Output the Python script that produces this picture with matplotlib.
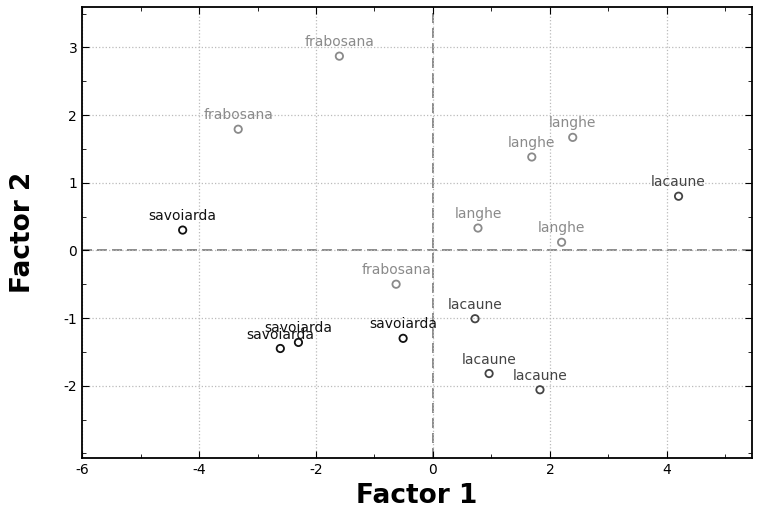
import matplotlib
matplotlib.use("Agg")
import matplotlib.pyplot as plt
from matplotlib.ticker import MultipleLocator, FixedLocator

plt.rcParams["axes.unicode_minus"] = False

# factor scores
breeds = ["savoiarda", "frabosana", "frabosana", "langhe", "langhe", "lacaune",
          "langhe", "langhe", "frabosana", "lacaune", "savoiarda", "savoiarda",
          "savoiarda", "lacaune", "lacaune"]
factor1 = [-4.28, -1.60, -3.33, 2.39, 1.69, 4.20, 0.77, 2.20, -0.63, 0.72,
           -0.51, -2.30, -2.61, 0.96, 1.83]
factor2 = [0.30, 2.87, 1.79, 1.67, 1.38, 0.80, 0.33, 0.12, -0.50, -1.01,
           -1.30, -1.36, -1.45, -1.82, -2.06]
yticks = [-2, -1, 0, 1, 2, 3]

colors = {"savoiarda": "#111111", "lacaune": "#444444",
          "langhe": "#8a8a8a", "frabosana": "#8a8a8a"}

fig = plt.figure(figsize=(7.67, 5.2), dpi=100)
ax = fig.add_axes([0.107, 0.119, 0.873, 0.868])

for b, x, y in zip(breeds, factor1, factor2):
    c = colors[b]
    ax.scatter(x, y, s=28, facecolors="none", edgecolors=c, linewidths=1.3, zorder=3)
    ax.annotate(b, (x, y), xytext=(0, 5), textcoords="offset points",
                ha="center", va="bottom", fontsize=10, color=c)

ax.axhline(0, color="#777777", linestyle=(0, (6, 3)), linewidth=1.2, zorder=1)
ax.axvline(0, color="#777777", linestyle=(0, (6, 3)), linewidth=1.2, zorder=1)

ax.set_xlim(-6, 5.45)
ax.set_ylim(-3.07, 3.6)
ax.xaxis.set_major_locator(MultipleLocator(2))
ax.xaxis.set_minor_locator(MultipleLocator(1))
ax.yaxis.set_major_locator(FixedLocator(yticks))
ax.yaxis.set_minor_locator(MultipleLocator(0.5))
ax.grid(True, which="major", linestyle=":", color="#bbbbbb", linewidth=0.9)
ax.tick_params(which="both", direction="in", top=True, right=True, labelsize=10)
ax.tick_params(which="major", length=5)
ax.tick_params(which="minor", length=3)
for s in ax.spines.values():
    s.set_linewidth(1.3)

ax.set_xlabel("Factor 1", fontsize=19, fontweight="bold", labelpad=4)
ax.set_ylabel("Factor 2", fontsize=19, fontweight="bold", labelpad=20)

fig.savefig("out.png", dpi=100)
